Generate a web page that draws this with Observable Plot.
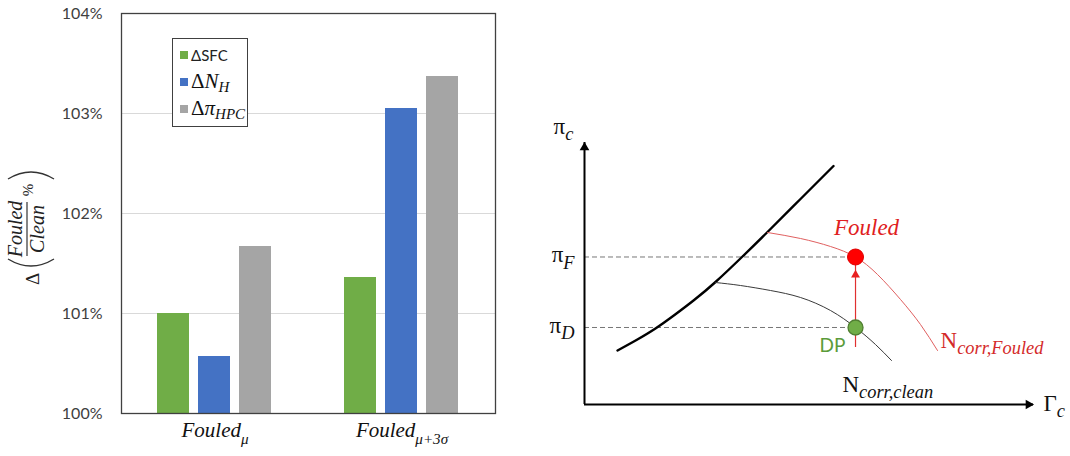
<!DOCTYPE html>
<html>
<head>
<meta charset="utf-8">
<script src="https://cdn.jsdelivr.net/npm/d3@7"></script>
<script src="https://cdn.jsdelivr.net/npm/@observablehq/plot@0.6"></script>
<style>
  html, body { margin: 0; padding: 0; background: #fff; }
  #wrap { display: flex; width: 1070px; height: 456px; }
  #left { position: relative; width: 540px; height: 456px; }
  #right { position: relative; width: 530px; height: 456px; }
  .legend { position: absolute; left: 172px; top: 38px; width: 76px; height: 89px;
    border: 1.3px solid #404040; background: #fff; box-sizing: border-box; }
  .legend .row { position: absolute; left: 7px; display: flex; align-items: center; }
  .legend .sw { width: 8px; height: 8px; margin-right: 3px; }
  .legend .sans { font-family: Lato, "Open Sans", sans-serif; font-size: 15px; color: #222; }
  .legend .math { font-family: "Liberation Serif", serif; font-size: 21px; color: #111; }
  .legend .math i { font-style: italic; }
  .legend .math sub { font-size: 15px; font-style: italic; vertical-align: -4px; }
</style>
</head>
<body>
<div id="wrap"><div id="left"></div><div id="right"></div></div>
<script>
// ---------- Left chart data ----------
const categories = ["Fouled_μ", "Fouled_μ+3σ"];
const seriesNames = ["ΔSFC", "ΔN_H", "Δπ_HPC"];
const seriesColors = ["#70ad47", "#4472c4", "#a5a5a5"];
const deltaSFC = [101.00, 101.36];
const deltaNH = [100.57, 103.05];
const deltaPiHPC = [101.67, 103.37];
const yTicks = [100, 101, 102, 103, 104];
const gridTicks = [101, 102, 103];

// ---------- Right schematic data (Γc, πc in arbitrary units) ----------
const axisMax = 100;
const surgeFlow = [7.35, 11.58, 15.81, 20.04, 24.28, 29.18, 35.19, 40.76, 48.11, 55.46];
const surgePR   = [20.61, 24.62, 29.01, 34.16, 39.69, 46.76, 56.49, 65.84, 78.44, 91.03];
const cleanFlow = [29.18, 34.75, 41.43, 48.11, 54.79, 60.36, 64.81, 68.37];
const cleanPR   = [46.56, 45.42, 43.51, 40.84, 35.88, 29.39, 22.90, 16.79];
const fouledFlow = [40.76, 48.11, 54.79, 60.36, 65.26, 70.38, 74.83, 78.62];
const fouledPR   = [65.65, 63.36, 60.31, 56.30, 49.62, 40.08, 30.53, 20.61];
const designPoint = [60.36, 29.39];
const fouledPoint = [60.36, 56.30];

const NS = "http://www.w3.org/2000/svg";
function addSubscripts(svg, ratio, shift) {
  svg.querySelectorAll("text").forEach(t => {
    if (t.querySelector("tspan")) return;
    const s = t.textContent;
    const i = s.indexOf("_");
    if (i < 0) return;
    const fs = parseFloat(getComputedStyle(t).fontSize) || 16;
    t.textContent = s.slice(0, i);
    const ts = document.createElementNS(NS, "tspan");
    ts.textContent = s.slice(i + 1);
    ts.setAttribute("font-size", (fs * ratio).toFixed(1));
    ts.setAttribute("font-style", "italic");
    ts.setAttribute("dy", (fs * shift).toFixed(1));
    t.appendChild(ts);
  });
}

// ---------- Left chart ----------
const rows = [];
categories.forEach((c, i) => {
  rows.push({cat: c, series: seriesNames[0], value: deltaSFC[i]});
  rows.push({cat: c, series: seriesNames[1], value: deltaNH[i]});
  rows.push({cat: c, series: seriesNames[2], value: deltaPiHPC[i]});
});

const left = Plot.plot({
  width: 540, height: 456,
  marginLeft: 120, marginRight: 45, marginTop: 13, marginBottom: 43,
  fx: {domain: categories, padding: 0},
  x: {domain: seriesNames, paddingInner: 0.214, paddingOuter: 0.84, axis: null},
  y: {domain: [100, 104]},
  color: {domain: seriesNames, range: seriesColors},
  style: {fontFamily: "Lato, sans-serif", background: "white"},
  marks: [
    Plot.ruleY(gridTicks, {stroke: "#d9d9d9", strokeWidth: 1.2}),
    Plot.barY(rows, {fx: "cat", x: "series", y1: () => 100, y2: "value", fill: "series"}),
    Plot.axisY({ticks: yTicks, tickFormat: d => d + "%", tickSize: 0, tickPadding: 19,
      fontSize: 16, color: "#404040", label: null}),
    Plot.axisFx({anchor: "bottom", tickSize: 0, tickPadding: 9, fontSize: 21, label: null,
      fontFamily: "Liberation Serif, serif", fontStyle: "italic", color: "#111"}),
    Plot.frame({stroke: "#404040", strokeWidth: 1.3, facet: "super"})
  ]
});
document.getElementById("left").appendChild(left);
addSubscripts(left, 0.72, 0.3);

// rotated y-axis label: Δ( Fouled / Clean % )
(function () {
  const yScale = left.scale("y");
  const cy = yScale.apply(101.85);
  const cx = 30;
  const g = document.createElementNS(NS, "g");
  g.setAttribute("transform", `translate(${cx},${cy}) rotate(-90)`);
  g.setAttribute("fill", "#222");
  g.setAttribute("font-family", "Liberation Serif, serif");
  const add = (tag, attrs, txt) => {
    const e = document.createElementNS(NS, tag);
    for (const k in attrs) e.setAttribute(k, attrs[k]);
    if (txt) e.textContent = txt;
    g.appendChild(e); return e;
  };
  add("text", {x: -51, y: 9, "font-size": 19, "text-anchor": "middle"}, "Δ");
  add("path", {d: "M -31 -22 Q -45 1 -31 24", fill: "none", stroke: "#333", "stroke-width": 1.4});
  add("text", {x: -1, y: -8, "font-size": 20, "font-style": "italic", "text-anchor": "middle"}, "Fouled");
  add("line", {x1: -28, x2: 26, y1: -3, y2: -3, stroke: "#333", "stroke-width": 1.2});
  add("text", {x: -1, y: 14, "font-size": 20, "font-style": "italic", "text-anchor": "middle"}, "Clean");
  add("text", {x: 38, y: 3, "font-size": 15, "text-anchor": "middle"}, "%");
  add("path", {d: "M 49 -22 Q 63 1 49 24", fill: "none", stroke: "#333", "stroke-width": 1.4});
  left.appendChild(g);
})();

// legend (HTML overlay)
(function () {
  const lg = document.createElement("div");
  lg.className = "legend";
  const tops = [6, 33, 60];
  const labels = [
    `<span class="sans">ΔSFC</span>`,
    `<span class="math">Δ<i>N</i><sub>H</sub></span>`,
    `<span class="math">Δ<i>π</i><sub>HPC</sub></span>`
  ];
  seriesNames.forEach((s, i) => {
    const r = document.createElement("div");
    r.className = "row";
    r.style.top = tops[i] + "px";
    r.style.height = "20px";
    r.innerHTML = `<div class="sw" style="background:${seriesColors[i]}"></div>${labels[i]}`;
    lg.appendChild(r);
  });
  document.getElementById("left").appendChild(lg);
})();

// ---------- Right schematic ----------
const zip = (a, b) => a.map((v, i) => ({g: v, p: b[i]}));
const surge = zip(surgeFlow, surgePR);
const clean = zip(cleanFlow, cleanPR);
const fouled = zip(fouledFlow, fouledPR);
const dp = {g: designPoint[0], p: designPoint[1]};
const fp = {g: fouledPoint[0], p: fouledPoint[1]};
const serif = "Liberation Serif, serif";

const right = Plot.plot({
  width: 530, height: 456,
  marginLeft: 44, marginRight: 37, marginTop: 142, marginBottom: 52,
  x: {domain: [0, axisMax], axis: null},
  y: {domain: [0, axisMax], axis: null},
  style: {fontFamily: serif, background: "white"},
  marks: [
    Plot.ruleY([fp, dp], {y: "p", x1: 0, x2: "g", stroke: "#777", strokeDasharray: "5,3", strokeWidth: 1}),
    Plot.ruleY([0], {x1: 0, x2: axisMax, stroke: "black", strokeWidth: 2}),
    Plot.ruleX([0], {y1: 0, y2: axisMax, stroke: "black", strokeWidth: 2}),
    Plot.dot([{g: axisMax, p: 0}], {x: "g", y: "p", symbol: "triangle", r: 3.6, rotate: 90, fill: "black", dx: -5}),
    Plot.dot([{g: 0, p: axisMax}], {x: "g", y: "p", symbol: "triangle", r: 3.6, fill: "black", dy: 5}),
    Plot.line(surge, {x: "g", y: "p", curve: "natural", stroke: "black", strokeWidth: 2.4}),
    Plot.line(clean, {x: "g", y: "p", curve: "natural", stroke: "#3a3a3a", strokeWidth: 1}),
    Plot.line(fouled, {x: "g", y: "p", curve: "natural", stroke: "#e06060", strokeWidth: 1}),
    Plot.ruleX([dp], {x: "g", y1: dp.p, y2: fp.p, stroke: "#e03030", strokeWidth: 1.2, insetTop: 20, insetBottom: 7}),
    Plot.dot([fp], {x: "g", y: "p", symbol: "triangle", r: 3.3, fill: "#e82020", dy: 18}),
    Plot.dot([fp], {x: "g", y: "p", r: 8, fill: "#ff0000", stroke: "#e00000", strokeWidth: 1}),
    Plot.dot([dp], {x: "g", y: "p", r: 7.5, fill: "#70ad47", stroke: "#507e32", strokeWidth: 1.3}),
    // labels
    Plot.text([{g: 0, p: axisMax}], {x: "g", y: "p", text: () => "π_c", dx: -21, dy: -16, fontSize: 23, fill: "#111"}),
    Plot.text([fp, dp], {x: () => 0, y: "p", text: (d, i) => i === 0 ? "π_F" : "π_D", dx: -10, dy: -2, textAnchor: "end", fontSize: 23, fill: "#111"}),
    Plot.text([{g: axisMax, p: 0}], {x: "g", y: "p", text: () => "Γ_c", dx: 10, dy: -1, textAnchor: "start", fontSize: 23, fill: "#111"}),
    Plot.text([fp], {x: "g", y: "p", text: () => "Fouled", dx: 11, dy: -29, fontSize: 23, fontStyle: "italic", fill: "#e02020"}),
    Plot.text([fouled[fouled.length - 1]], {x: "g", y: "p", text: () => "N_corr,Fouled", dx: 3, dy: -10, textAnchor: "start", fontSize: 23, fill: "#d42a2a"}),
    Plot.text([dp], {x: "g", y: "p", text: () => "DP", dx: -23, dy: 18, fontSize: 19, fontFamily: "Lato, sans-serif", fill: "#5b9b3b"}),
    Plot.text([clean[clean.length - 1]], {x: "g", y: "p", text: () => "N_corr,clean", dx: -49, dy: 24, textAnchor: "start", fontSize: 23, fill: "#111"})
  ]
});
document.getElementById("right").appendChild(right);
addSubscripts(right, 0.8, 0.28);
</script>
</body>
</html>
